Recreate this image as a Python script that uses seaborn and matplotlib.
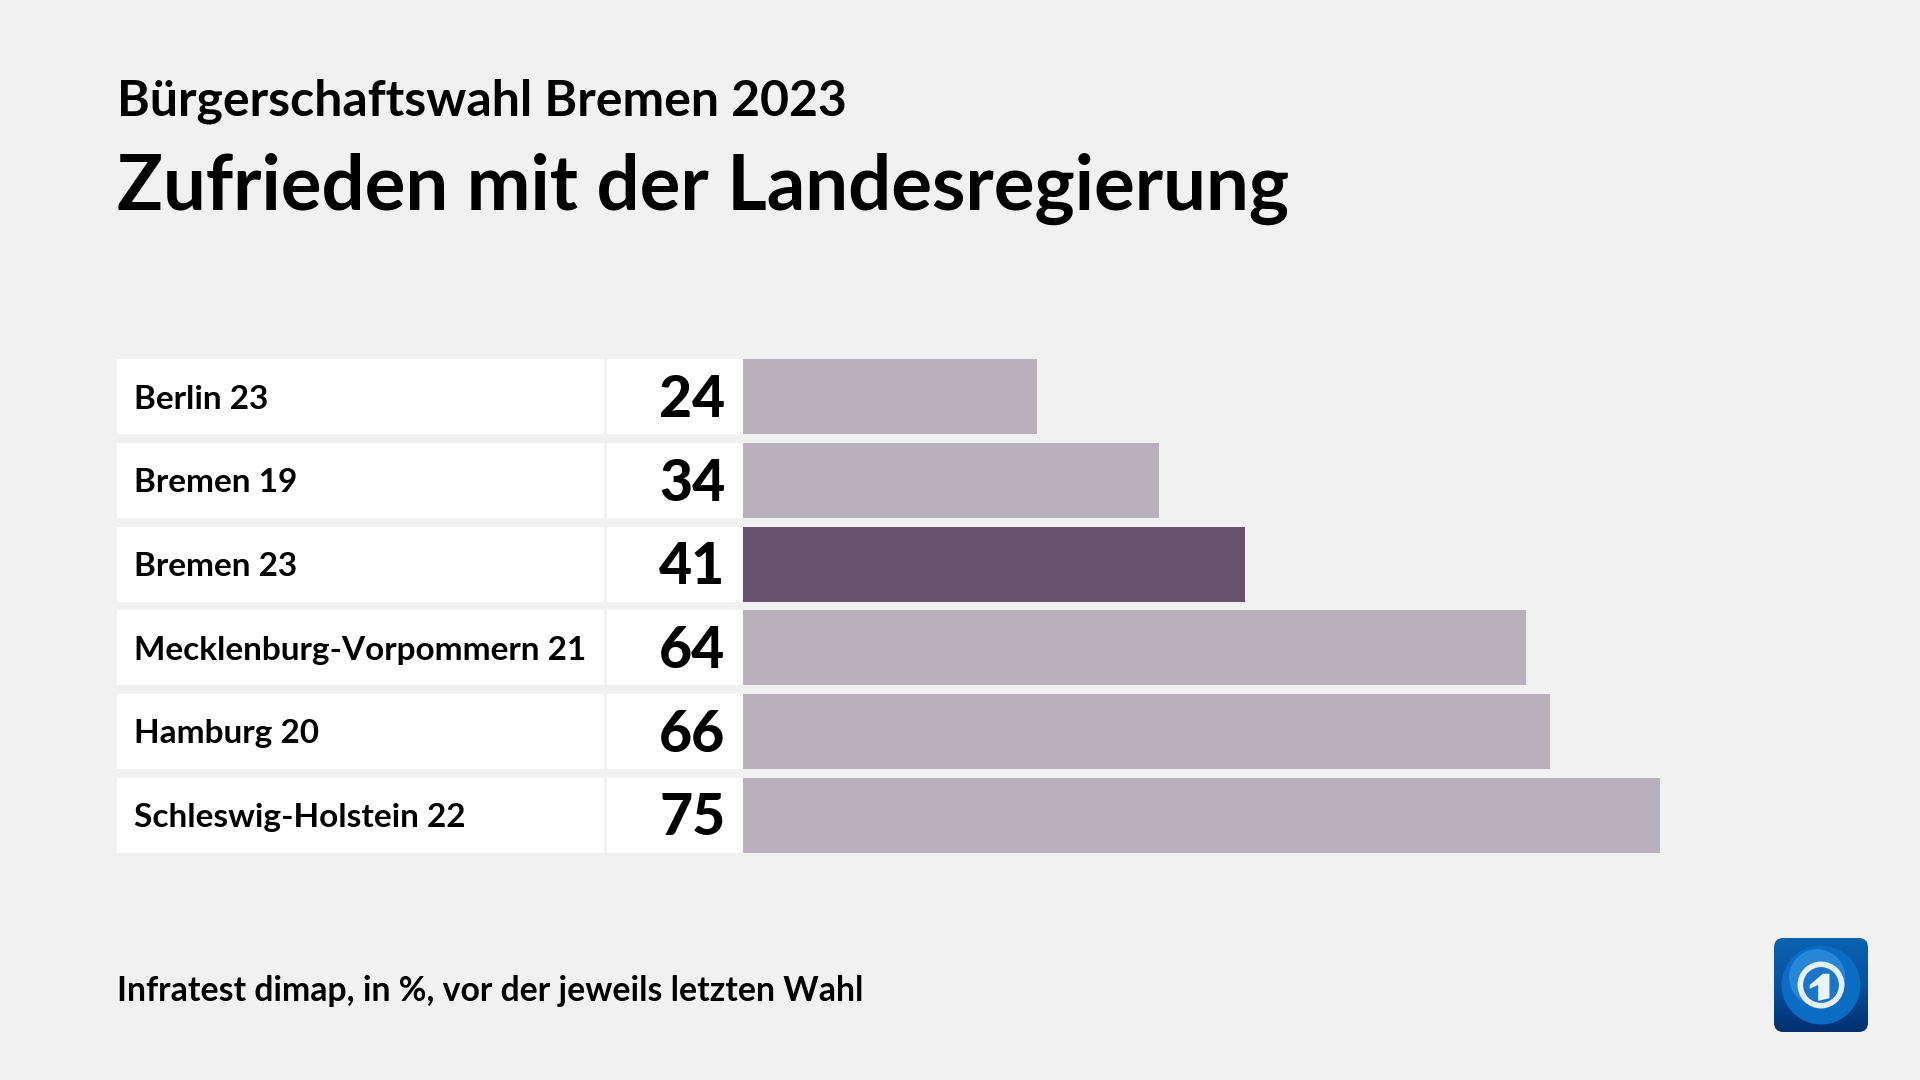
"""Zufrieden mit der Landesregierung - horizontal bars"""

import numpy as np
import pandas as pd
import matplotlib.pyplot as plt
import seaborn as sns
from matplotlib.patches import Circle, FancyBboxPatch, Polygon, Rectangle
from matplotlib.transforms import blended_transform_factory

categories = ["Berlin 23", "Bremen 19", "Bremen 23",
              "Mecklenburg-Vorpommern 21", "Hamburg 20", "Schleswig-Holstein 22"]
values = [24, 34, 41, 64, 66, 75]
highlight = "Bremen 23"

subtitle = "Bürgerschaftswahl Bremen 2023"
title = "Zufrieden mit der Landesregierung"
footer = "Infratest dimap, in %, vor der jeweils letzten Wahl"

BG = "#f1f1f1"
BAR = "#b8b0bb"
BAR_HI = "#68536f"
W, H = 1920, 1080

sns.set_theme(style="white")
plt.rcParams["font.family"] = ["Lato", "DejaVu Sans"]

df = pd.DataFrame({"label": categories, "value": values})
palette = {c: (BAR_HI if c == highlight else BAR) for c in categories}

fig = plt.figure(figsize=(19.2, 10.8), dpi=100, facecolor=BG)


def px_axes(x0, y0, x1, y1):
    return fig.add_axes([x0 / W, 1 - y1 / H, (x1 - x0) / W, (y1 - y0) / H])


def fig_text(x, y, s, **kw):
    fig.text(x / W, 1 - y / H, s, va="baseline", color="black", **kw)


ax = px_axes(743, 355, 1660.5, 857)
sns.barplot(data=df, y="label", x="value", hue="label", palette=palette,
            order=categories, hue_order=categories, width=0.896,
            saturation=1, legend=False, dodge=False, linewidth=0, ax=ax)
ax.set_xlim(0, 75)
ax.set_ylim(5.5, -0.5)
ax.axis("off")

# white cells left of the bars, in row coordinates
trans = blended_transform_factory(fig.transFigure, ax.transData)
for i, (cat, val) in enumerate(zip(categories, values)):
    for x0, x1 in [(117, 604), (607, 743)]:
        fig.add_artist(Rectangle((x0 / W, i - 0.448), (x1 - x0) / W, 0.896,
                                 transform=trans, fc="white", ec="none"))
    fig.text(134 / W, i + 0.0, cat, transform=trans, fontsize=24, weight="bold",
             va="center_baseline", color="black", zorder=5)
    fig.text(725.5 / W, i - 0.015, str(val), transform=trans, fontsize=41, weight=900,
             ha="right", va="center_baseline", color="black", zorder=5)

fig_text(117, 116, subtitle, fontsize=36, weight="bold")
fig_text(117, 210, title, fontsize=54.8, weight="bold")
fig_text(117, 1001, footer, fontsize=24.3, weight="bold")

# tagesschau-style logo
logo = px_axes(1774, 938, 1868, 1032)
logo.set_xlim(0, 1)
logo.set_ylim(0, 1)
logo.axis("off")
grad = np.linspace(0, 1, 64).reshape(-1, 1)
cmap = sns.blend_palette(["#0a62b0", "#0553a0", "#03306f"], as_cmap=True)
img = logo.imshow(grad, extent=(0, 1, 0, 1), cmap=cmap, aspect="auto", zorder=1)
clip = FancyBboxPatch((0, 0), 1, 1, boxstyle="round,pad=0,rounding_size=0.1",
                      transform=logo.transAxes, fc="none", ec="none")
logo.add_patch(clip)
img.set_clip_path(clip)
logo.add_patch(Circle((0.5, 0.5), 0.42, fc="#0b6cc4", ec="none", zorder=2))
logo.add_patch(Circle((0.46, 0.58), 0.3, fc="#3f9fe6", ec="none", alpha=0.55, zorder=2))
logo.add_patch(Circle((0.5, 0.5), 0.22, fc="#1a76c8", ec="#e4f1fb", lw=4, zorder=3))
logo.add_patch(Polygon([(0.38, 0.50), (0.52, 0.62), (0.59, 0.62), (0.59, 0.36),
                        (0.47, 0.33), (0.47, 0.50), (0.38, 0.46)],
                       fc="#e8f3fb", ec="none", zorder=4))

fig.savefig("out.png", dpi=100, facecolor=BG)
